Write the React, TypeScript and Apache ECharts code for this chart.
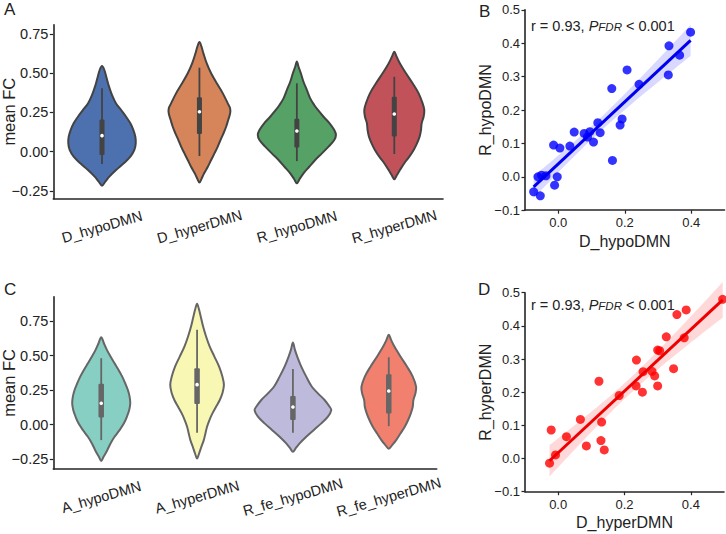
import React, { useEffect, useRef } from "react";
import * as echarts from "echarts";

// ---------- DATA ----------
const catsA = ["D_hypoDMN", "D_hyperDMN", "R_hypoDMN", "R_hyperDMN"];
const catsC = ["A_hypoDMN", "A_hyperDMN", "R_fe_hypoDMN", "R_fe_hyperDMN"];
const violinTicks = [-0.25, 0, 0.25, 0.5, 0.75];
const scatterXTicks = [0, 0.2, 0.4];
const scatterYTicks = [-0.1, 0, 0.1, 0.2, 0.3, 0.4, 0.5];

// density outlines: [value, half width (fraction of category band)]
const profD_hypo = [[0.546,0],[0.521,0.024],[0.468,0.048],[0.415,0.072],[0.361,0.103],[0.308,0.144],[0.266,0.195],[0.223,0.247],[0.181,0.291],[0.138,0.322],[0.096,0.342],[0.053,0.346],[0.011,0.332],[-0.032,0.291],[-0.074,0.223],[-0.117,0.144],[-0.159,0.075],[-0.191,0.034],[-0.217,0]];
const profD_hyper = [[0.699,0],[0.670,0.021],[0.627,0.041],[0.563,0.075],[0.500,0.120],[0.436,0.178],[0.372,0.240],[0.308,0.291],[0.276,0.315],[0.244,0.315],[0.202,0.295],[0.159,0.274],[0.117,0.247],[0.074,0.216],[0.032,0.188],[-0.011,0.154],[-0.053,0.120],[-0.096,0.086],[-0.138,0.048],[-0.170,0.024],[-0.197,0]];
const profR_hypo = [[0.576,0],[0.542,0.017],[0.500,0.041],[0.446,0.068],[0.393,0.103],[0.340,0.137],[0.298,0.178],[0.266,0.216],[0.223,0.274],[0.181,0.336],[0.138,0.384],[0.106,0.401],[0.074,0.384],[0.032,0.325],[-0.011,0.257],[-0.053,0.188],[-0.096,0.127],[-0.138,0.068],[-0.176,0.027],[-0.202,0]];
const profR_hyper = [[0.638,0],[0.606,0.024],[0.563,0.058],[0.500,0.120],[0.436,0.188],[0.372,0.250],[0.308,0.291],[0.266,0.308],[0.223,0.301],[0.181,0.281],[0.138,0.274],[0.096,0.260],[0.053,0.233],[0.011,0.199],[-0.032,0.154],[-0.074,0.103],[-0.117,0.058],[-0.149,0.027],[-0.176,0]];
const profA_hypo = [[0.633,0],[0.589,0.028],[0.541,0.059],[0.493,0.097],[0.444,0.139],[0.396,0.181],[0.348,0.219],[0.300,0.250],[0.251,0.278],[0.203,0.296],[0.155,0.303],[0.106,0.292],[0.058,0.268],[0.010,0.237],[-0.039,0.191],[-0.087,0.139],[-0.135,0.097],[-0.184,0.063],[-0.232,0.024],[-0.263,0]];
const profA_hyper = [[0.874,0],[0.831,0.021],[0.783,0.038],[0.710,0.063],[0.638,0.094],[0.565,0.132],[0.493,0.181],[0.420,0.230],[0.348,0.264],[0.287,0.280],[0.227,0.264],[0.179,0.237],[0.130,0.198],[0.082,0.160],[0.034,0.129],[-0.014,0.104],[-0.063,0.087],[-0.111,0.070],[-0.159,0.045],[-0.208,0.021],[-0.244,0]];
const profRfe_hypo = [[0.594,0],[0.541,0.021],[0.493,0.045],[0.420,0.087],[0.348,0.139],[0.275,0.198],[0.227,0.261],[0.179,0.330],[0.130,0.383],[0.106,0.400],[0.058,0.365],[0.010,0.296],[-0.039,0.216],[-0.087,0.139],[-0.135,0.070],[-0.171,0.028],[-0.196,0]];
const profRfe_hyper = [[0.650,0],[0.614,0.024],[0.565,0.059],[0.493,0.122],[0.420,0.191],[0.348,0.250],[0.275,0.285],[0.227,0.278],[0.179,0.257],[0.130,0.250],[0.082,0.230],[0.034,0.202],[-0.014,0.167],[-0.063,0.122],[-0.111,0.077],[-0.147,0.035],[-0.174,0]];

// box stats: [whisker low, q1, median, q3, whisker high]
const boxA = [[-0.079,-0.021,0.102,0.206,0.404],[-0.028,0.113,0.255,0.347,0.536],[-0.060,0.026,0.132,0.210,0.436],[-0.015,0.096,0.240,0.351,0.478]];
const boxC = [[-0.111,0.053,0.155,0.297,0.481],[-0.058,0.150,0.290,0.408,0.686],[-0.058,0.034,0.128,0.208,0.403],[-0.010,0.082,0.244,0.365,0.488]];

// scatter B: D_hypoDMN (x) vs R_hypoDMN (y)
const bX = [0.398,0.333,0.365,0.331,0.207,0.243,0.161,0.192,0.186,0.119,0.126,0.048,0.078,0.095,0.088,0.106,0.035,-0.014,0.005,0.163,-0.003,-0.037,-0.061,-0.050,-0.011,-0.074,-0.054];
const bY = [0.433,0.392,0.364,0.305,0.320,0.277,0.264,0.173,0.155,0.162,0.132,0.134,0.130,0.135,0.119,0.104,0.092,0.095,0.086,0.049,0.000,0.003,0.000,0.005,-0.025,-0.045,-0.057];
// scatter D: D_hyperDMN (x) vs R_hyperDMN (y)
const dX = [0.496,0.386,0.358,0.380,0.326,0.300,0.306,0.236,0.256,0.283,0.348,0.291,0.300,0.235,0.254,0.184,0.123,0.067,0.131,0.025,0.085,0.129,0.139,-0.021,-0.008,-0.026];
const dY = [0.480,0.448,0.434,0.364,0.367,0.327,0.325,0.297,0.262,0.263,0.271,0.249,0.219,0.219,0.200,0.190,0.233,0.118,0.110,0.066,0.038,0.054,0.026,0.086,0.011,-0.014];

const annotation = { r: "0.93", p: "0.001" };

// ---------- STYLE ----------
const FONT = "Liberation Sans, Arial, Helvetica, sans-serif";
const TXT = "#222222";
const fillsA = ["#4c71ae", "#d6855a", "#56a165", "#c1525a"];
const fillsC = ["#88cfc3", "#f8f8b4", "#bdbadb", "#f2806f"];

function linreg(xs: number[], ys: number[]) {
  const n = xs.length;
  const mx = xs.reduce((s, v) => s + v, 0) / n;
  const my = ys.reduce((s, v) => s + v, 0) / n;
  let sxx = 0, sxy = 0;
  for (let i = 0; i < n; i++) { sxx += (xs[i] - mx) ** 2; sxy += (xs[i] - mx) * (ys[i] - my); }
  const b = sxy / sxx; const a = my - b * mx;
  let sse = 0;
  for (let i = 0; i < n; i++) sse += (ys[i] - a - b * xs[i]) ** 2;
  const s = Math.sqrt(sse / (n - 2));
  return { a, b, s, mx, sxx, n, xmin: Math.min(...xs), xmax: Math.max(...xs) };
}

function bandPoints(fit: any) {
  const t = 2.06;
  const up: number[][] = [], lo: number[][] = [];
  const steps = 40;
  for (let k = 0; k <= steps; k++) {
    const x = fit.xmin + (fit.xmax - fit.xmin) * k / steps;
    const yh = fit.a + fit.b * x;
    const se = fit.s * Math.sqrt(1 / fit.n + (x - fit.mx) ** 2 / fit.sxx);
    up.push([x, yh + t * se]); lo.push([x, yh - t * se]);
  }
  return up.concat(lo.reverse());
}

function violinRender(profiles: number[][][], boxes: number[][], fills: string[], stroke: string, boxW: number) {
  return (params: any, api: any) => {
    const i = params.dataIndex;
    const band = api.size([1, 0])[0];
    const prof = profiles[i];
    const left = prof.map(([v, w]) => { const p = api.coord([i, v]); return [p[0] - w * band, p[1]]; });
    const right = prof.slice(1, -1).reverse().map(([v, w]) => { const p = api.coord([i, v]); return [p[0] + w * band, p[1]]; });
    const pts = left.concat(right);
    const bx = boxes[i];
    const pLo = api.coord([i, bx[0]]), pQ1 = api.coord([i, bx[1]]), pMed = api.coord([i, bx[2]]), pQ3 = api.coord([i, bx[3]]), pHi = api.coord([i, bx[4]]);
    return {
      type: "group",
      children: [
        { type: "polygon", shape: { points: pts, smooth: 0.35 }, style: { fill: fills[i], stroke, lineWidth: 2 } },
        { type: "line", shape: { x1: pLo[0], y1: pLo[1], x2: pHi[0], y2: pHi[1] }, style: { stroke, lineWidth: 1.8 } },
        { type: "rect", shape: { x: pQ3[0] - boxW / 2, y: pQ3[1], width: boxW, height: pQ1[1] - pQ3[1], r: 1 }, style: { fill: stroke } },
        { type: "circle", shape: { cx: pMed[0], cy: pMed[1], r: 1.8 }, style: { fill: "#ffffff" } },
      ],
    };
  };
}

function bandRender(pts: number[][], color: string) {
  return (params: any, api: any) => ({
    type: "polygon",
    shape: { points: pts.map((p) => api.coord(p)) },
    style: { fill: color },
  });
}

const fmt2 = (v: number) => (v < 0 ? "\u2212" : "") + Math.abs(v).toFixed(2);
const fmt1 = (v: number) => (v < 0 ? "\u2212" : "") + Math.abs(v).toFixed(1);

function violinAxes(cats: string[], gridIndex: number, min: number, max: number) {
  const x = {
    type: "category", gridIndex, data: cats,
    axisLine: { onZero: false, lineStyle: { color: "#262626", width: 1.6 } },
    axisTick: { alignWithLabel: true, length: 4, lineStyle: { color: "#262626", width: 1.2 } },
    axisLabel: { interval: 0, rotate: 16, align: "center", verticalAlign: "middle", margin: 28, fontSize: 14.5, color: TXT, fontFamily: FONT },
    splitLine: { show: false },
  };
  const y = {
    type: "value", gridIndex, min, max,
    name: "mean FC", nameLocation: "middle", nameRotate: 90, nameGap: 35.5, nameMoveOverlap: false,
    nameTextStyle: { fontSize: 16.5, color: TXT, fontFamily: FONT },
    axisLine: { show: true, onZero: false, lineStyle: { color: "#262626", width: 1.6 } },
    axisTick: { show: true, length: 3.5, customValues: violinTicks, lineStyle: { color: "#262626", width: 1.2 } },
    axisLabel: { customValues: violinTicks, formatter: fmt2, margin: 5, fontSize: 14.5, color: TXT, fontFamily: FONT },
    splitLine: { show: false },
  };
  return { x, y };
}

function scatterAxes(gridIndex: number, xname: string, yname: string) {
  const x = {
    type: "value", gridIndex, min: -0.1, max: 0.5,
    name: xname, nameLocation: "middle", nameGap: 23, nameMoveOverlap: false,
    nameTextStyle: { fontSize: 16, color: TXT, fontFamily: FONT },
    axisLine: { show: true, onZero: false, lineStyle: { color: "#262626", width: 1.6 } },
    axisTick: { show: true, length: 3.5, customValues: scatterXTicks, lineStyle: { color: "#262626", width: 1.2 } },
    axisLabel: { customValues: scatterXTicks, formatter: fmt1, margin: 6, fontSize: 13, color: TXT, fontFamily: FONT },
    splitLine: { show: false },
  };
  const y = {
    type: "value", gridIndex, min: -0.1, max: 0.5,
    name: yname, nameLocation: "middle", nameRotate: 90, nameGap: 32, nameMoveOverlap: false,
    nameTextStyle: { fontSize: 16, color: TXT, fontFamily: FONT },
    axisLine: { show: true, onZero: false, lineStyle: { color: "#262626", width: 1.6 } },
    axisTick: { show: true, length: 3.5, customValues: scatterYTicks, lineStyle: { color: "#262626", width: 1.2 } },
    axisLabel: { customValues: scatterYTicks, formatter: fmt1, margin: 5, fontSize: 13, color: TXT, fontFamily: FONT },
    splitLine: { show: false },
  };
  return { x, y };
}

function annot(x: number, y: number) {
  return {
    type: "text", x, y,
    style: {
      text: `{n|r = ${annotation.r}, }{p|P}{s|FDR}{n| < ${annotation.p}}`,
      verticalAlign: "middle",
      rich: {
        n: { fontSize: 14.5, fontFamily: FONT, fill: TXT, lineHeight: 18, verticalAlign: "bottom" },
        p: { fontSize: 14.5, fontFamily: FONT, fontStyle: "italic", fill: TXT, lineHeight: 18, verticalAlign: "bottom" },
        s: { fontSize: 11.5, fontFamily: FONT, fontStyle: "italic", fill: TXT, lineHeight: 16, verticalAlign: "bottom" },
      },
    },
  };
}

function letter(t: string, x: number, y: number) {
  return { type: "text", x, y, style: { text: t, fontSize: 17, fontFamily: FONT, fill: TXT, verticalAlign: "top" } };
}

export default function App() {
  const ref = useRef<HTMLDivElement>(null);
  useEffect(() => {
    if (!ref.current) return;
    const chart = echarts.init(ref.current, null, { renderer: "svg" });
    const vA = violinAxes(catsA, 0, -0.30, 0.81);
    const vC = violinAxes(catsC, 1, -0.32, 0.925);
    const sB = scatterAxes(2, "D_hypoDMN", "R_hypoDMN");
    const sD = scatterAxes(3, "D_hyperDMN", "R_hyperDMN");
    const fitB = linreg(bX, bY);
    const fitD = linreg(dX, dY);
    const bandB = bandPoints(fitB);
    const bandD = bandPoints(fitD);

    chart.setOption({
      animation: false,
      backgroundColor: "#ffffff",
      textStyle: { fontFamily: FONT },
      grid: [
        { left: 53.3, top: 24.7, width: 389.7, height: 174, outerBoundsMode: "none", containLabel: false },
        { left: 53.3, top: 296.8, width: 383.4, height: 172.2, outerBoundsMode: "none", containLabel: false },
        { left: 525, top: 9.8, width: 199.5, height: 200.4, outerBoundsMode: "none", containLabel: false },
        { left: 525, top: 292.7, width: 199, height: 199, outerBoundsMode: "none", containLabel: false },
      ],
      xAxis: [vA.x, vC.x, sB.x, sD.x],
      yAxis: [vA.y, vC.y, sB.y, sD.y],
      series: [
        {
          type: "custom", xAxisIndex: 0, yAxisIndex: 0,
          data: catsA.map((_, i) => [i, 0]), encode: { x: 0, y: 1 },
          renderItem: violinRender([profD_hypo, profD_hyper, profR_hypo, profR_hyper], boxA, fillsA, "#434343", 5),
        },
        {
          type: "custom", xAxisIndex: 1, yAxisIndex: 1,
          data: catsC.map((_, i) => [i, 0]), encode: { x: 0, y: 1 },
          renderItem: violinRender([profA_hypo, profA_hyper, profRfe_hypo, profRfe_hyper], boxC, fillsC, "#666666", 5.5),
        },
        {
          type: "scatter", xAxisIndex: 2, yAxisIndex: 2, z: 2,
          data: bX.map((x, i) => [x, bY[i]]), symbolSize: 9,
          itemStyle: { color: "#0000ff", opacity: 0.8 },
        },
        {
          type: "custom", xAxisIndex: 2, yAxisIndex: 2, z: 3,
          data: [[0, 0]], encode: { x: 0, y: 1 },
          renderItem: bandRender(bandB, "rgba(0,0,255,0.15)"),
        },
        {
          type: "line", xAxisIndex: 2, yAxisIndex: 2, z: 4, showSymbol: false,
          data: [[fitB.xmin, fitB.a + fitB.b * fitB.xmin], [fitB.xmax, fitB.a + fitB.b * fitB.xmax]],
          lineStyle: { color: "#0000ee", width: 3 },
        },
        {
          type: "scatter", xAxisIndex: 3, yAxisIndex: 3, z: 2,
          data: dX.map((x, i) => [x, dY[i]]), symbolSize: 9,
          itemStyle: { color: "#ff0000", opacity: 0.8 },
        },
        {
          type: "custom", xAxisIndex: 3, yAxisIndex: 3, z: 3,
          data: [[0, 0]], encode: { x: 0, y: 1 },
          renderItem: bandRender(bandD, "rgba(255,0,0,0.15)"),
        },
        {
          type: "line", xAxisIndex: 3, yAxisIndex: 3, z: 4, showSymbol: false,
          data: [[fitD.xmin, fitD.a + fitD.b * fitD.xmin], [fitD.xmax, fitD.a + fitD.b * fitD.xmax]],
          lineStyle: { color: "#ee0000", width: 3 },
        },
      ],
      graphic: [
        letter("A", 4, 1),
        letter("B", 479, 3),
        letter("C", 4, 281),
        letter("D", 478, 281),
        annot(531, 24),
        annot(531, 303),
      ],
    });
    return () => chart.dispose();
  }, []);
  return <div ref={ref} style={{ width: 726, height: 534, position: "absolute", left: 0, top: 0 }} />;
}
